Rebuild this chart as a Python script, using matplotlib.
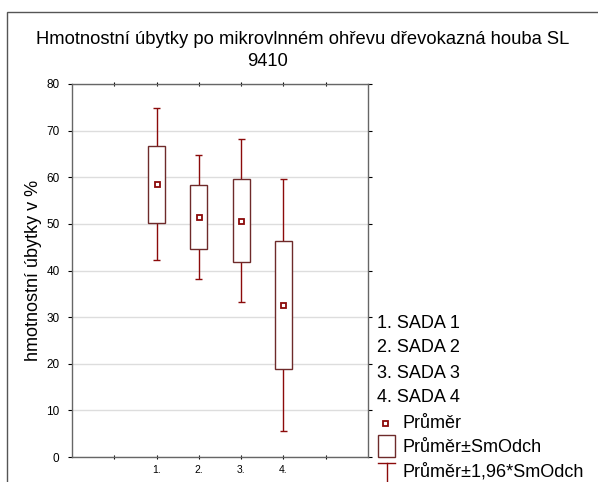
import numpy as np
import matplotlib.pyplot as plt
from matplotlib.patches import Rectangle
from matplotlib.lines import Line2D

plt.rcParams['font.family'] = ['Liberation Sans', 'DejaVu Sans']

# data
groups = ['1.', '2.', '3.', '4.']
legend_names = ['1. SADA 1', '2. SADA 2', '3. SADA 3', '4. SADA 4']
means = np.array([58.5, 51.5, 50.7, 32.6])
sds = np.array([8.3, 6.8, 8.9, 13.75])

box_lo = means - sds
box_hi = means + sds
wh_lo = means - 1.96 * sds
wh_hi = means + 1.96 * sds

W, H = 598, 482
fig = plt.figure(figsize=(W / 100, H / 100), dpi=100)
ax = fig.add_axes([72 / W, 1 - 457 / H, 296 / W, 373 / H])

red = '#8b0a0a'
boxc = '#6e2a2a'
pos = np.arange(1, len(groups) + 1)
bw = 0.4
cw = 0.08
for x, m, bl, bh, wl, wh in zip(pos, means, box_lo, box_hi, wh_lo, wh_hi):
    ax.vlines(x, bh, wh, color=red, lw=1, zorder=2)
    ax.vlines(x, wl, bl, color=red, lw=1, zorder=2)
    ax.hlines([wl, wh], x - cw, x + cw, color=red, lw=1, zorder=2)
    ax.add_patch(Rectangle((x - bw / 2, bl), bw, bh - bl, facecolor='white',
                           edgecolor=boxc, lw=1, zorder=3))
ax.plot(pos, means, 's', ms=3.6, mfc='white', mec=red, mew=1.3, zorder=4)

ax.set_xlim(-1, 6)
ax.set_ylim(0, 80)
ax.set_yticks(np.arange(0, 81, 10))
ax.set_xticks(np.arange(0, 6))
ax.set_xticklabels([''] + groups + [''], fontsize=7.5)
ax.tick_params(axis='y', labelsize=8.5, length=3, width=0.8, right=True, pad=6)
ax.tick_params(axis='x', length=3, width=0.8, top=True, direction='inout', pad=4)
ax.yaxis.grid(True, color='#dddddd', lw=1)
ax.set_axisbelow(True)
for s in ax.spines.values():
    s.set_color('#666666')
    s.set_linewidth(1)
ax.set_ylabel('hmotnostní úbytky v %', fontsize=13, labelpad=3)

fig.text(303 / W, 1 - 40 / H, 'Hmotnostní úbytky po mikrovlnném ohřevu dřevokazná houba SL',
         ha='center', va='center', fontsize=13.2)
fig.text(267 / W, 1 - 62 / H, '9410', ha='center', va='center', fontsize=13.2)

# outer frame
fig.add_artist(Rectangle((7 / W, -0.05), 1.2, 1 - 12 / H + 0.05, transform=fig.transFigure,
                         fill=False, edgecolor='#555555', lw=1))

# legend drawn by hand
rows = [323, 348, 373, 398, 423, 447, 472]
for y, name in zip(rows[:4], legend_names):
    fig.text(377 / W, 1 - y / H, name, ha='left', va='center', fontsize=13)
extra = ['Průměr', 'Průměr±SmOdch', 'Průměr±1,96*SmOdch']
for y, name in zip(rows[4:], extra):
    fig.text(403 / W, 1 - y / H, name, ha='left', va='center', fontsize=13)
fig.add_artist(Line2D([385 / W], [1 - 423 / H], marker='s', ms=3.6, mfc='white',
                      mec=red, mew=1.3, transform=fig.transFigure))
fig.add_artist(Rectangle((378 / W, 1 - 457 / H), 17 / W, 22 / H, transform=fig.transFigure,
                         fill=False, edgecolor=boxc, lw=1))
fig.add_artist(Line2D([386.5 / W, 386.5 / W], [1 - 463 / H, 0], color=red, lw=1,
                      transform=fig.transFigure))
fig.add_artist(Line2D([378 / W, 395 / W], [1 - 463 / H, 1 - 463 / H], color=red, lw=1,
                      transform=fig.transFigure))

fig.savefig('out.png', dpi=100)
